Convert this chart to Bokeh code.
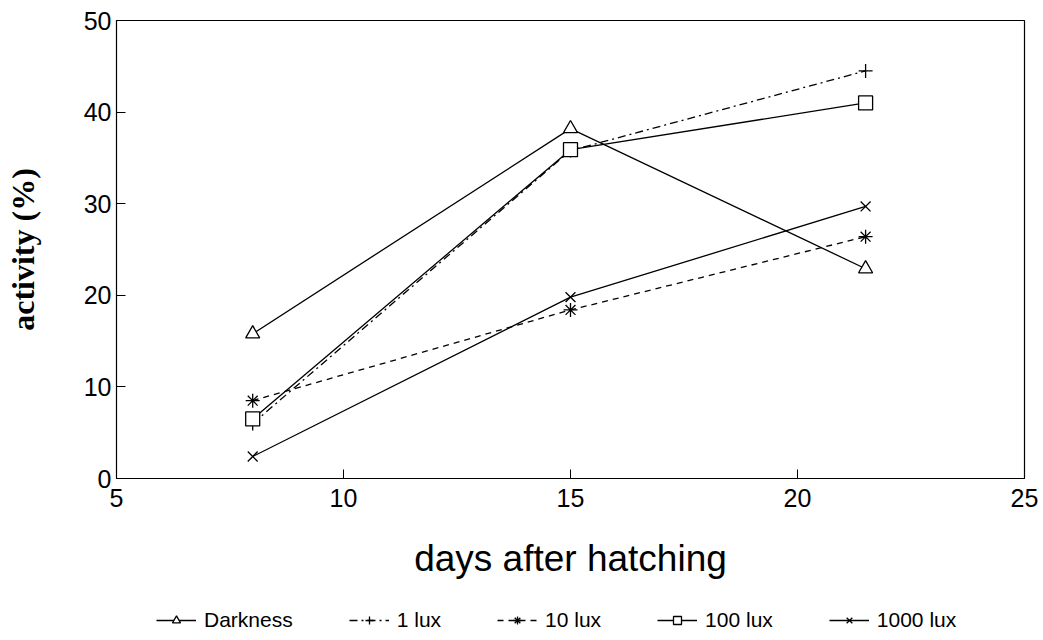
from bokeh.plotting import figure
from bokeh.layouts import column
from bokeh.models import Legend, LegendItem, Range1d, FixedTicker
from bokeh.embed import file_html
from bokeh.resources import INLINE

days = [8, 15, 21.5]
darkness = [15.8, 38.2, 22.9]
lux1 = [6.0, 35.8, 44.5]
lux10 = [8.5, 18.4, 26.4]
lux100 = [6.5, 35.9, 41.0]
lux1000 = [2.4, 19.8, 29.7]

series = [
    ("Darkness", darkness, "solid", "triangle"),
    ("1 lux", lux1, "8 4 2 4", "cross"),
    ("10 lux", lux10, "6 5", "asterisk"),
    ("100 lux", lux100, "solid", "square"),
    ("1000 lux", lux1000, "solid", "x"),
]

p = figure(width=1043, height=600, output_backend="svg", toolbar_location=None,
           x_range=Range1d(5, 25), y_range=Range1d(0, 50),
           min_border_left=116, min_border_right=19, min_border_top=20,
           min_border_bottom=122)
p.background_fill_color = "white"
p.border_fill_color = "white"
p.outline_line_color = "black"
p.outline_line_width = 1.2
p.xgrid.visible = False
p.ygrid.visible = False

for ax in (p.xaxis, p.yaxis):
    ax.major_tick_in = 9
    ax.major_tick_out = 0
    ax.minor_tick_line_color = None
    ax.axis_line_color = "black"
    ax.major_tick_line_color = "black"
    ax.major_label_text_font = "Liberation Sans"
    ax.major_label_text_font_size = "25px"
    ax.major_label_text_color = "black"
p.xaxis.ticker = FixedTicker(ticks=[5, 10, 15, 20, 25])
p.yaxis.ticker = FixedTicker(ticks=[0, 10, 20, 30, 40, 50])
p.xaxis.major_label_standoff = 10
p.yaxis.major_label_standoff = 5

p.xaxis.axis_label = "days after hatching"
p.xaxis.axis_label_text_font = "Liberation Sans"
p.xaxis.axis_label_text_font_size = "37px"
p.xaxis.axis_label_text_font_style = "normal"
p.xaxis.axis_label_text_color = "black"
p.xaxis.axis_label_standoff = 28
p.yaxis.axis_label = "activity (%)"
p.yaxis.axis_label_text_font = "Liberation Serif"
p.yaxis.axis_label_text_font_size = "32px"
p.yaxis.axis_label_text_font_style = "bold"
p.yaxis.axis_label_text_color = "black"
p.yaxis.axis_label_standoff = 40

for name, vals, dash, marker in series:
    p.line(days, vals, line_color="black", line_width=1.3, line_dash=dash)
    p.scatter(days, vals, marker=marker, size=14, line_color="black",
              fill_color="white", line_width=1.3)

# legend strip below the chart (its frame is aligned with the chart's frame)
q = figure(width=1043, height=40, output_backend="svg", toolbar_location=None,
           x_range=Range1d(0, 1), y_range=Range1d(0, 1),
           x_axis_location=None, y_axis_location=None, min_border=0)
q.outline_line_color = None
q.xgrid.visible = False
q.ygrid.visible = False
items = []
for name, vals, dash, marker in series:
    r1 = q.line(days, vals, line_color="black", line_width=1.3, line_dash=dash)
    r2 = q.scatter(days, vals, marker=marker, size=12, line_color="black",
                   fill_color="white", line_width=1.3)
    items.append(LegendItem(label=name, renderers=[r1, r2]))
legend = Legend(items=items, orientation="horizontal", location=(40, 8),
                border_line_color=None, background_fill_alpha=0,
                label_text_font="Liberation Sans", label_text_font_size="21px",
                label_text_color="black",
                glyph_width=40, glyph_height=20, spacing=56, padding=0, margin=0,
                label_standoff=8)
q.add_layout(legend, "center")

layout = column(p, q, spacing=0)
open("out.html", "w").write(file_html(layout, INLINE))
